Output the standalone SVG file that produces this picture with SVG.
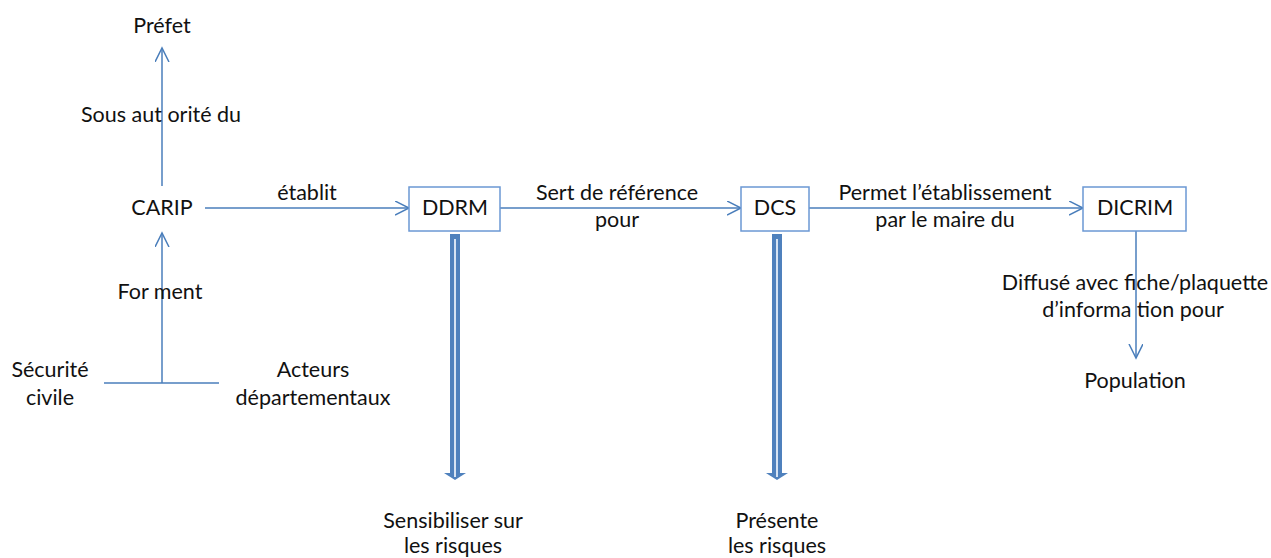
<svg xmlns="http://www.w3.org/2000/svg" width="1271" height="558" viewBox="0 0 1271 558">
<style>
text{font-family:Lato,"Liberation Sans",sans-serif;font-size:21.5px;fill:#111;text-anchor:middle}
.ln{stroke:#4a7ebb;stroke-width:1.5;fill:none}
.box{stroke:#6b98d4;stroke-width:1.5;fill:#fff}
.dbl{fill:#4f81bd}
.dbi{stroke:#d6e3f3;stroke-width:2}
</style>
<defs>
<marker id="ah" markerUnits="userSpaceOnUse" markerWidth="16" markerHeight="16" refX="14" refY="7" orient="auto" viewBox="0 0 16 16">
<path d="M0,0 L14,7 L0,14" fill="none" stroke="#4a7ebb" stroke-width="1.5"/>
</marker>
</defs>
<rect width="1271" height="558" fill="#fff"/>
<g id="connectors">
<line class="ln" x1="162" y1="186" x2="162" y2="48" marker-end="url(#ah)"/>
<line class="ln" x1="205" y1="208" x2="409" y2="208" marker-end="url(#ah)"/>
<line class="ln" x1="104" y1="383" x2="219" y2="383"/>
<line class="ln" x1="162" y1="383" x2="162" y2="233" marker-end="url(#ah)"/>
<line class="ln" x1="500" y1="208" x2="741" y2="208" marker-end="url(#ah)"/>
<line class="ln" x1="809" y1="208" x2="1083" y2="208" marker-end="url(#ah)"/>
<line class="ln" x1="1136" y1="231" x2="1136" y2="358" marker-end="url(#ah)"/>
<g id="dbl-ddrm">
<rect class="dbl" x="450" y="234" width="10" height="240"/>
<path class="dbl" d="M444,473 L466,473 L455,480 Z"/>
<line class="dbi" x1="455" y1="239" x2="455" y2="477"/>
</g>
<g id="dbl-dcs">
<rect class="dbl" x="772" y="234" width="10" height="240"/>
<path class="dbl" d="M766,473 L788,473 L777,480 Z"/>
<line class="dbi" x1="777" y1="239" x2="777" y2="477"/>
</g>
<text x="161" y="122">Sous aut orité du</text>
<text x="307" y="200">établit</text>
<text x="160" y="299">For ment</text>
<text x="617" y="200">Sert de référence</text>
<text x="617" y="227">pour</text>
<text x="945" y="200">Permet l’établissement</text>
<text x="945" y="227">par le maire du</text>
<text x="1135" y="290">Diffusé avec fiche/plaquette</text>
<text x="1133" y="317">d’informa tion pour</text>
</g>
<g id="prefet"><text x="162" y="33">Préfet</text></g>
<g id="carip"><text x="162" y="215">CARIP</text></g>
<g id="securite"><text x="50" y="377">Sécurité</text><text x="50" y="405">civile</text></g>
<g id="acteurs"><text x="313" y="377">Acteurs</text><text x="313" y="405">départementaux</text></g>
<g id="ddrm"><rect class="box" x="409" y="187" width="91" height="44"/><text x="455" y="215">DDRM</text></g>
<g id="dcs"><rect class="box" x="741" y="187" width="68" height="44"/><text x="775" y="215">DCS</text></g>
<g id="dicrim"><rect class="box" x="1083" y="187" width="103" height="44"/><text x="1135" y="215">DICRIM</text></g>
<g id="population"><text x="1135" y="388">Population</text></g>
<g id="sensibiliser"><text x="453" y="528">Sensibiliser sur</text><text x="453" y="553">les risques</text></g>
<g id="presente"><text x="777" y="528">Présente</text><text x="777" y="553">les risques</text></g>
</svg>
